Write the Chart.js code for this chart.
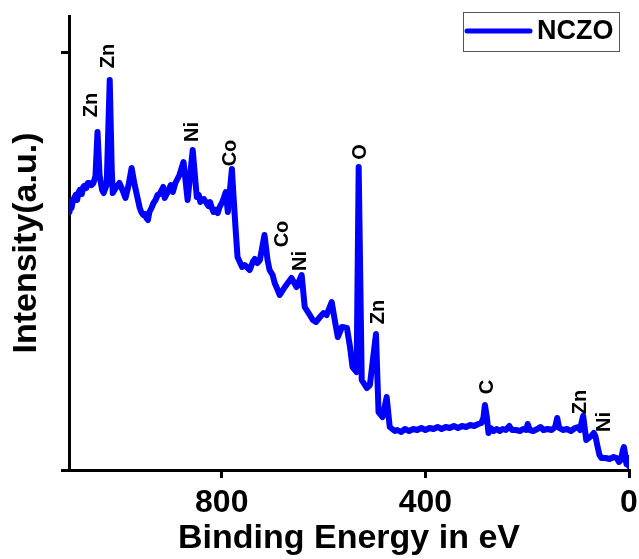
<!DOCTYPE html>
<html>
<head>
<meta charset="utf-8">
<title>NCZO XPS survey</title>
<script src="https://cdn.jsdelivr.net/npm/chart.js@4.4.1/dist/chart.umd.min.js"></script>
<style>
    html, body { margin: 0; padding: 0; background: #fff; }
</style>
</head>
<body>
<canvas id="xpsChart" width="639" height="559"></canvas>
<script>
// survey spectrum (binding energy in eV, intensity in a.u.)
const bindingEnergy = [
    1099, 1097, 1095, 1093, 1090, 1087, 1084, 1081, 1079, 1075, 1072, 1070, 1066, 1063, 1060, 1056,
    1052, 1048, 1044, 1040, 1035, 1032, 1026, 1020, 1016, 1014, 1007, 1001, 995, 989, 983, 977,
    971, 961, 958, 954, 951, 948, 945, 942, 938, 934, 930, 926, 922, 918, 915, 912,
    906, 900, 896, 891, 883, 875, 867, 857, 849, 845, 842, 839, 835, 830, 826, 823,
    820, 816, 812, 808, 805, 802, 799, 796, 792, 788, 780, 777, 773, 769, 760, 755,
    749, 745, 739, 735, 730, 725, 716, 710, 706, 700, 696, 690, 686, 676, 663, 653,
    643, 637, 627, 621, 615, 607, 600, 594, 584, 578, 572, 564, 554, 548, 543, 535,
    531, 525, 515, 509, 497, 492, 484, 476, 470, 460, 455, 448, 440, 432, 424, 416,
    408, 400, 392, 384, 376, 368, 360, 352, 344, 336, 328, 320, 312, 304, 296, 290,
    286, 283, 279, 276, 272, 266, 260, 254, 248, 242, 235, 230, 222, 214, 208, 202,
    199, 195, 188, 180, 174, 168, 160, 152, 145, 141, 137, 130, 122, 114, 106, 100,
    96, 93, 90, 87, 84, 79, 74, 69, 66, 62, 58, 54, 46, 38, 30, 24,
    20, 16, 12, 10, 8, 5, 3, 1, 0
];
const intensity = [
    258, 268, 262, 268, 272, 275, 270, 278, 280, 276, 283, 284, 282, 287, 287, 285,
    287, 294, 338, 295, 280, 277, 285, 390, 300, 277, 283, 287, 280, 272, 285, 302,
    285, 262, 258, 255, 256, 252, 250, 258, 262, 267, 270, 275, 276, 280, 283, 272,
    278, 285, 278, 287, 295, 308, 270, 320, 273, 275, 268, 270, 271, 267, 264, 268,
    263, 258, 260, 257, 262, 265, 268, 272, 278, 258, 301, 275, 243, 213, 203, 205,
    202, 200, 208, 211, 207, 210, 235, 210, 200, 195, 187, 180, 175, 183, 192, 183,
    195, 163, 155, 150, 148, 153, 157, 155, 168, 150, 133, 143, 142, 123, 103, 98,
    303, 90, 82, 85, 136, 58, 53, 73, 43, 39, 40, 38, 41, 39, 41, 40,
    42, 40, 42, 41, 43, 41, 43, 42, 44, 42, 44, 43, 45, 44, 46, 47,
    52, 65, 52, 37, 42, 39, 41, 39, 41, 40, 44, 40, 40, 39, 41, 40,
    46, 40, 39, 41, 43, 40, 41, 40, 43, 52, 42, 40, 41, 39, 42, 43,
    40, 48, 54, 42, 30, 32, 34, 37, 34, 24, 15, 12, 12, 11, 13, 12,
    8, 10, 20, 23, 17, 6, 8, 12, 4
];
const xTicks = [800, 400, 0];
const yTicks = [0, 417];

// element labels over the peaks
const peakNames = ['Zn', 'Zn', 'Ni', 'Co', 'Co', 'Ni', 'O', 'Zn', 'C', 'Zn', 'Ni'];
const peakEnergy = [1056, 1022, 857, 782, 680, 645, 527, 493, 277, 96, 49];
const peakHeight = [365, 414, 338, 317, 236, 209, 318, 158, 83, 68, 48];

const FONT = '"Liberation Sans", Arial, sans-serif';

const points = bindingEnergy.map((e, i) => ({ x: e, y: intensity[i] }));

const peakLabels = {
    id: 'peakLabels',
    afterDatasetsDraw(chart) {
        const { ctx, scales: { x, y } } = chart;
        ctx.save();
        ctx.fillStyle = '#000';
        ctx.font = 'bold 20px ' + FONT;
        ctx.textAlign = 'center';
        ctx.textBaseline = 'middle';
        peakNames.forEach((name, i) => {
            ctx.save();
            ctx.translate(x.getPixelForValue(peakEnergy[i]), y.getPixelForValue(peakHeight[i]));
            ctx.rotate(-Math.PI / 2);
            ctx.fillText(name, 0, 0);
            ctx.restore();
        });
        ctx.restore();
    }
};

// boxed legend in the top right corner
const boxLegend = {
    id: 'boxLegend',
    afterDraw(chart) {
        const ds = chart.data.datasets[0];
        const ctx = chart.ctx;
        ctx.save();
        ctx.strokeStyle = '#555';
        ctx.lineWidth = 1;
        ctx.strokeRect(463.5, 12.5, 156, 39);
        ctx.strokeStyle = ds.borderColor;
        ctx.lineWidth = 5;
        ctx.lineCap = 'round';
        ctx.beginPath();
        ctx.moveTo(467, 31);
        ctx.lineTo(530, 31);
        ctx.stroke();
        ctx.fillStyle = '#000';
        ctx.font = 'bold 27px ' + FONT;
        ctx.textBaseline = 'middle';
        ctx.fillText(ds.label, 537, 32);
        ctx.restore();
    }
};

new Chart(document.getElementById('xpsChart'), {
    type: 'line',
    data: {
        datasets: [{
            label: 'NCZO',
            data: points,
            borderColor: '#0000ff',
            borderWidth: 6,
            borderJoinStyle: 'round',
            borderCapStyle: 'round',
            pointRadius: 0,
            tension: 0,
            fill: false
        }]
    },
    options: {
        responsive: false,
        animation: false,
        layout: { autoPadding: false, padding: { top: 16, right: 10, left: 0, bottom: 0 } },
        plugins: {
            legend: { display: false },
            tooltip: { enabled: false }
        },
        scales: {
            x: {
                type: 'linear',
                min: 0,
                max: 1100,
                reverse: true,
                afterBuildTicks: s => { s.ticks = xTicks.map(v => ({ value: v })); },
                afterFit: s => {
                    s.height = 89;
                    // let the "0" label hang past the plot edge like the original
                    s.paddingLeft = 0;
                    s.paddingRight = 0;
                },
                ticks: {
                    color: '#000',
                    font: { family: FONT, size: 32, weight: 'bold' },
                    padding: 6,
                    maxRotation: 0,
                    autoSkip: false
                },
                grid: { drawOnChartArea: false, tickLength: 8, lineWidth: 3, color: '#000' },
                border: { width: 3, color: '#000' },
                title: {
                    display: true,
                    text: 'Binding Energy in eV',
                    color: '#000',
                    font: { family: FONT, size: 34, weight: 'bold' },
                    padding: 0
                }
            },
            y: {
                min: 0,
                max: 454,
                afterBuildTicks: s => { s.ticks = yTicks.map(v => ({ value: v })); },
                afterFit: s => { s.width = 69; },
                ticks: { display: false },
                grid: { drawOnChartArea: false, tickLength: 8, lineWidth: 3, color: '#000' },
                border: { width: 3, color: '#000' },
                title: {
                    display: true,
                    text: 'Intensity(a.u.)',
                    color: '#000',
                    font: { family: FONT, size: 34, weight: 'bold' },
                    padding: { top: 6, bottom: 0 }
                }
            }
        }
    },
    plugins: [peakLabels, boxLegend]
});
</script>
</body>
</html>
